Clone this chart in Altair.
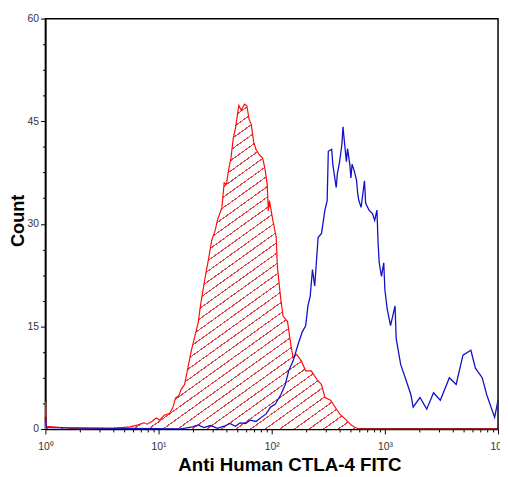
import altair as alt
import pandas as pd

red_exp = [0.0, 0.008, 0.3, 0.6, 0.75, 0.82, 0.87, 0.9, 0.94, 0.98, 1.01, 1.05, 1.1, 1.13, 1.15,
           1.18, 1.2, 1.23, 1.26, 1.29, 1.32, 1.35, 1.37, 1.41, 1.44, 1.47, 1.5, 1.52, 1.56, 1.58,
           1.6, 1.62, 1.64, 1.66, 1.68, 1.7, 1.71, 1.73, 1.76, 1.78, 1.8, 1.82, 1.84, 1.86, 1.89,
           1.92, 1.94, 1.96, 1.97, 1.98, 2.01, 2.04, 2.05, 2.08, 2.1, 2.14, 2.17, 2.19, 2.22, 2.26,
           2.3, 2.35, 2.4, 2.44, 2.47, 2.52, 2.58, 2.6, 2.66, 2.7, 2.73, 2.77, 4.0]
red_count = [4.0, 0.4, 0.0, 0.1, 0.3, 0.6, 0.9, 0.7, 1.1, 1.6, 1.3, 2.0, 2.3, 3.3, 4.5,
             4.9, 5.8, 6.5, 9.0, 11.5, 13.5, 15.5, 18.0, 22.0, 24.7, 27.6, 29.0, 30.5, 32.4, 36.0,
             35.8, 38.0, 39.6, 42.5, 44.0, 46.3, 47.3, 46.6, 47.5, 47.3, 45.3, 44.5, 42.0, 40.9, 40.1,
             39.6, 38.1, 35.8, 31.9, 33.4, 30.5, 28.0, 23.7, 19.0, 16.5, 15.7, 12.2, 10.4, 10.9, 10.0,
             8.5, 8.5, 7.2, 6.5, 4.6, 4.2, 2.7, 2.2, 1.3, 0.6, 0.3, 0.0, 0.0]

blue_exp = [0.0, 0.008, 1.2, 1.3, 1.35, 1.4, 1.46, 1.52, 1.58, 1.63, 1.68, 1.72, 1.77, 1.81, 1.86,
            1.95, 1.99, 2.03, 2.08, 2.12, 2.15, 2.19, 2.23, 2.27, 2.3, 2.32, 2.34, 2.36, 2.38, 2.41,
            2.44, 2.47, 2.49, 2.5, 2.53, 2.54, 2.57, 2.58, 2.6, 2.62, 2.63, 2.64, 2.66, 2.67, 2.69,
            2.7, 2.71, 2.73, 2.75, 2.76, 2.77, 2.79, 2.82, 2.83, 2.86, 2.89, 2.91, 2.93, 2.94, 2.95,
            2.97, 2.99, 3.0, 3.02, 3.05, 3.09, 3.1, 3.14, 3.18, 3.23, 3.25, 3.31, 3.37, 3.43, 3.49,
            3.57, 3.63, 3.69, 3.76, 3.8, 3.86, 3.9, 3.97, 4.0]
blue_count = [1.8, 0.2, 0.0, 0.3, 0.6, 0.2, 0.5, 0.1, 0.4, 0.8, 0.4, 0.9, 0.8, 1.3, 1.1,
              2.2, 3.2, 3.6, 5.0, 6.5, 8.5, 10.0, 12.2, 14.2, 15.1, 18.0, 19.4, 23.3, 20.9, 28.0,
              28.6, 32.0, 33.4, 40.6, 40.9, 38.7, 35.3, 37.3, 39.1, 41.6, 44.2, 42.4, 39.1, 41.0, 38.7,
              36.7, 38.7, 37.7, 36.3, 34.4, 33.4, 32.4, 36.3, 33.0, 32.0, 31.5, 30.5, 32.0, 27.2, 24.3,
              22.3, 24.3, 20.4, 17.6, 15.1, 18.0, 13.2, 9.4, 7.5, 5.0, 3.2, 4.6, 2.9, 5.3, 4.2,
              7.5, 6.5, 10.8, 11.5, 8.9, 7.5, 5.0, 1.7, 4.2]

x_major = [1, 10, 100, 1000, 10000]
x_minor_mult = [1, 2, 3, 4, 5, 6, 7, 8, 9]
y_major = [0, 15, 30, 45, 60]
y_minor_step = 3.75

red = pd.DataFrame({"fl": [10 ** e for e in red_exp], "count": red_count})
blue = pd.DataFrame({"fl": [10 ** e for e in blue_exp], "count": blue_count})

x_ticks = sorted({m * d for d in x_major[:-1] for m in x_minor_mult} | {x_major[-1]})
y_ticks = [i * y_minor_step for i in range(int(60 / y_minor_step) + 1)]

major_test = "indexof([1,10,100,1000,10000], datum.value) >= 0"
x_axis = alt.Axis(
    values=x_ticks,
    labelExpr=major_test + " ? '10' + ['\u2070','\u00b9','\u00b2','\u00b3','\u2074'][round(log(datum.value)/LN10)] : ''",
    tickSize={"condition": {"test": major_test, "value": 5}, "value": 3},
    title="Anti Human CTLA-4 FITC",
    labelFlush=False, labelOverlap=False, grid=False,
    domainColor="black", domainWidth=1.5, tickColor="black", tickWidth=1,
    labelFont="Liberation Sans", labelFontSize=10.5, labelColor="#333333", labelPadding=8,
    titleFont="Liberation Sans", titleFontSize=19, titleFontWeight="bold", titleColor="black",
    titleX=248, titleY=42, titleBaseline="alphabetic", titleAlign="center",
)
y_axis = alt.Axis(
    values=y_ticks,
    labelExpr="datum.value % 15 == 0 ? '' + datum.value : ''",
    tickSize={"condition": {"test": "datum.value % 15 == 0", "value": 5}, "value": 3},
    title="Count",
    labelOverlap=False, grid=False,
    domainColor="black", domainWidth=1.5, tickColor="black", tickWidth=1,
    labelFont="Liberation Sans", labelFontSize=10.5, labelColor="#333333", labelPadding=2,
    titleFont="Liberation Sans", titleFontSize=18.5, titleFontWeight="bold", titleColor="black",
    titleX=-22, titleY=205, titleAngle=270, titleBaseline="alphabetic", titleAlign="center",
)

x_enc = alt.X("fl:Q", scale=alt.Scale(type="log", domain=[1, 10000], nice=False), axis=x_axis)
y_enc = alt.Y("count:Q", scale=alt.Scale(domain=[0, 60], nice=False, zero=True), axis=y_axis)

# diagonal hatch emulated with hard-edged gradient stripes
n_stripes = 62
hatch_color = "#e04444"
stops = []
for i in range(n_stripes):
    a = i / n_stripes
    b = (i + 0.13) / n_stripes
    c = (i + 1) / n_stripes
    stops += [alt.GradientStop(color=hatch_color, offset=a),
              alt.GradientStop(color=hatch_color, offset=b),
              alt.GradientStop(color="white", offset=b),
              alt.GradientStop(color="white", offset=c)]
hatch = alt.Gradient(gradient="linear", stops=stops, x1=0, y1=0, x2=1, y2=1)

area = alt.Chart(red).mark_area(color=hatch, interpolate="linear").encode(x=x_enc, y=y_enc)
red_line = alt.Chart(red).mark_line(color="#ff0a0a", strokeWidth=1.2).encode(x=x_enc, y=y_enc)
blue_line = alt.Chart(blue).mark_line(color="#1010c8", strokeWidth=1.3).encode(x=x_enc, y=y_enc)

chart = alt.layer(area, red_line, blue_line).properties(
    width=460, height=417,
    padding={"left": 38, "top": 7, "right": 2, "bottom": 45},
    autosize=alt.AutoSizeParams(type="none"),
    background="white",
).configure_view(stroke="black", strokeWidth=1.5)

chart.save("out.html", embed_options={"renderer": "svg", "actions": False})
